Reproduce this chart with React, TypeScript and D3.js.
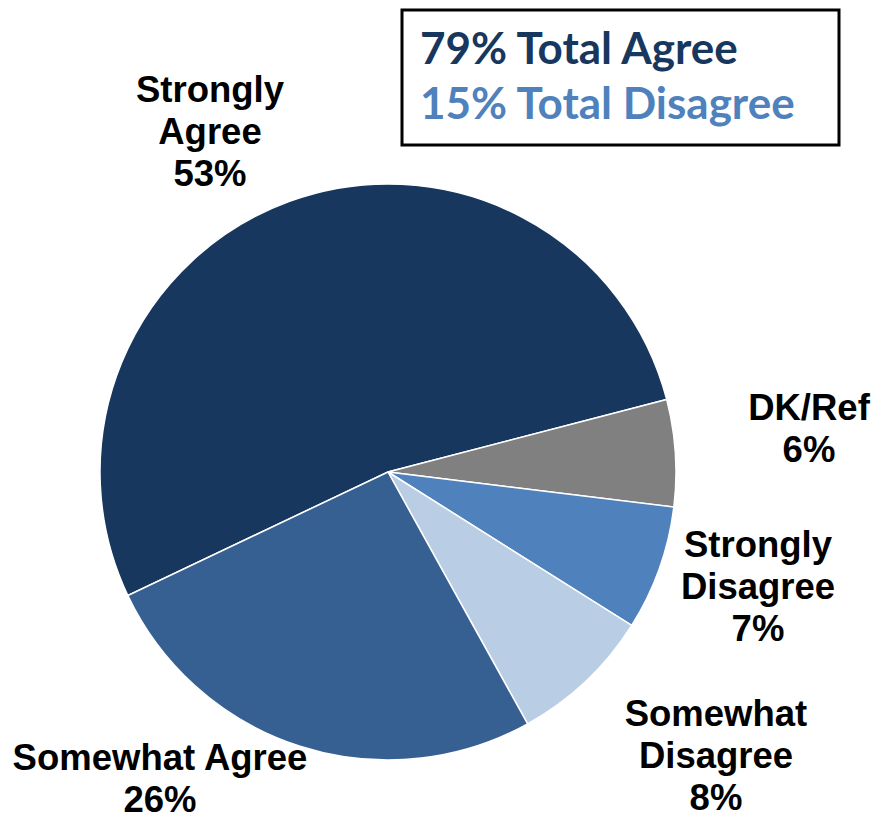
import { useMemo } from 'react';
import * as d3 from 'd3';

// clockwise order, starting from Strongly Agree
const categories = ['Strongly Agree', 'DK/Ref', 'Strongly Disagree', 'Somewhat Disagree', 'Somewhat Agree'];
const values = [53, 6, 7, 8, 26];
const colors = ['#17375E', '#808080', '#4F81BD', '#B9CDE5', '#376092'];

// label lines and anchor positions (centre x, first baseline y)
const labelLines = [
  ['Strongly', 'Agree', '53%'],
  ['DK/Ref', '6%'],
  ['Strongly', 'Disagree', '7%'],
  ['Somewhat', 'Disagree', '8%'],
  ['Somewhat Agree', '26%'],
];
const labelPos: [number, number][] = [
  [210, 102],
  [809, 420],
  [758, 557],
  [716, 726],
  [160, 770],
];

const summary = ['79% Total Agree', '15% Total Disagree'];
const summaryColors = ['#17375E', '#4F81BD'];

export default function App() {
  const width = 873;
  const height = 820;
  const cx = 388;
  const cy = 472;
  const radius = 288;

  const arcs = useMemo(() => {
    const start = -115.4 * Math.PI / 180;
    const pie = d3.pie<number>()
      .value(d => d)
      .sort(null)
      .startAngle(start)
      .endAngle(start + 2 * Math.PI);
    return pie(values);
  }, []);

  const arc = d3.arc<d3.PieArcDatum<number>>().innerRadius(0).outerRadius(radius);
  const lineH = 42;

  return (
    <svg width={width} height={height} style={{ position: 'absolute', left: 0, top: 0, background: '#fff' }}>
      <g transform={`translate(${cx},${cy})`}>
        {arcs.map((a, i) => (
          <path key={categories[i]} d={arc(a) || ''} fill={colors[i]} stroke="#fff" strokeWidth={1.5} />
        ))}
      </g>
      {labelLines.map((lines, i) => (
        <text
          key={categories[i]}
          x={labelPos[i][0]}
          y={labelPos[i][1]}
          textAnchor="middle"
          fontFamily="'Liberation Sans', Arial, sans-serif"
          fontWeight="bold"
          fontSize={36.5}
          fill="#000"
        >
          {lines.map((l, j) => (
            <tspan key={j} x={labelPos[i][0]} y={labelPos[i][1] + j * lineH}>{l}</tspan>
          ))}
        </text>
      ))}
      <rect x={402} y={10} width={437} height={135} fill="#fff" stroke="#000" strokeWidth={3} />
      {summary.map((s, i) => (
        <text
          key={s}
          x={420}
          y={64 + i * 55}
          fontFamily="Lato, 'Open Sans', sans-serif"
          fontWeight="bold"
          fontSize={44}
          fill={summaryColors[i]}
        >
          {s}
        </text>
      ))}
    </svg>
  );
}
